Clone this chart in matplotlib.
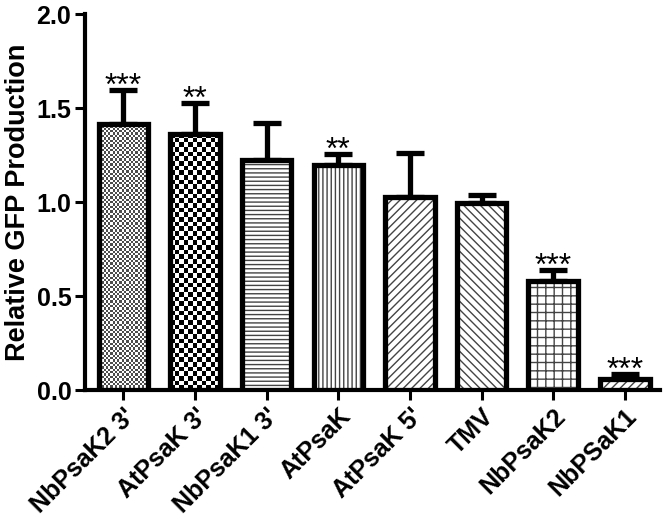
import matplotlib
matplotlib.use("Agg")
import matplotlib.pyplot as plt
import numpy as np

plt.rcParams['font.family'] = ['Liberation Sans', 'DejaVu Sans']
plt.rcParams['font.weight'] = 'bold'
plt.rcParams['hatch.linewidth'] = 1.0
plt.rcParams['hatch.color'] = '#444444'

# donnees
labels = ["NbPsaK2 3'", "AtPsaK 3'", "NbPsaK1 3'", "AtPsaK", "AtPsaK 5'", "TMV", "NbPsaK2", "NbPSaK1"]
values = [1.415, 1.365, 1.225, 1.20, 1.03, 0.995, 0.58, 0.058]
errors = [0.18, 0.165, 0.195, 0.055, 0.23, 0.045, 0.058, 0.03]
stars = ["***", "**", "", "**", "", "", "***", "***"]
hatches = [None, None, "----", "||||", "////", "\\\\\\\\", "++", "////"]

fig = plt.figure(figsize=(6.66, 5.26), dpi=100)
ax = fig.add_axes([0.128, 0.258, 0.863, 0.715])

x = np.arange(len(values))
w = 0.69
bars = ax.bar(x, values, width=w, color='white', edgecolor='none', linewidth=0, zorder=3)
for b, h in zip(bars, hatches):
    if h:
        b.set_hatch(h)
        b.set_edgecolor('#444444')

# damiers pour les deux premieres barres
def damier(b, ncols, per_unit, gris):
    x0 = b.get_x()
    h = b.get_height()
    nrows = max(1, int(round(h * per_unit)))
    ii, jj = np.indices((nrows, ncols))
    img = ((ii + jj) % 2).astype(float)
    img = np.where(img > 0, 1.0, gris)
    im = ax.imshow(img, cmap='gray', vmin=0, vmax=1, interpolation='nearest',
                   extent=[x0, x0 + b.get_width(), 0, h], aspect='auto', zorder=3.5)
    im.set_clip_path(b)

damier(bars[0], 22, 80, 0.3)
damier(bars[1], 11, 40, 0.0)

# contours par dessus
ax.bar(x, values, width=w, color='none', edgecolor='black', linewidth=3.8, zorder=4)

ax.errorbar(x, values, yerr=[np.zeros(len(errors)), errors], fmt='none', ecolor='black',
            elinewidth=3.8, capsize=10, capthick=3.8, zorder=2)

for xi, v, e, s in zip(x, values, errors, stars):
    if s:
        ax.annotate(s, (xi, v + e), xytext=(0, -3.5), textcoords='offset points',
                    ha='center', va='baseline', fontsize=23, fontweight='normal')

ax.set_xlim(-0.53, 7.49)
ax.set_ylim(0, 2.0)
ax.set_yticks([0.0, 0.5, 1.0, 1.5, 2.0])
ax.set_yticklabels(["0.0", "0.5", "1.0", "1.5", "2.0"], fontsize=18, fontweight='bold')
ax.set_xticks(x)
ax.set_xticklabels(labels, rotation=45, ha='right', rotation_mode='anchor', fontsize=18, fontweight='bold')
ax.set_ylabel("Relative GFP Production", fontsize=19.5, fontweight='bold', labelpad=4)

ax.spines['top'].set_visible(False)
ax.spines['right'].set_visible(False)
ax.spines['left'].set_linewidth(3)
ax.spines['bottom'].set_linewidth(3)
ax.tick_params(axis='both', width=2.2, length=7, direction='out', pad=3)

fig.savefig("out.png", dpi=100)
